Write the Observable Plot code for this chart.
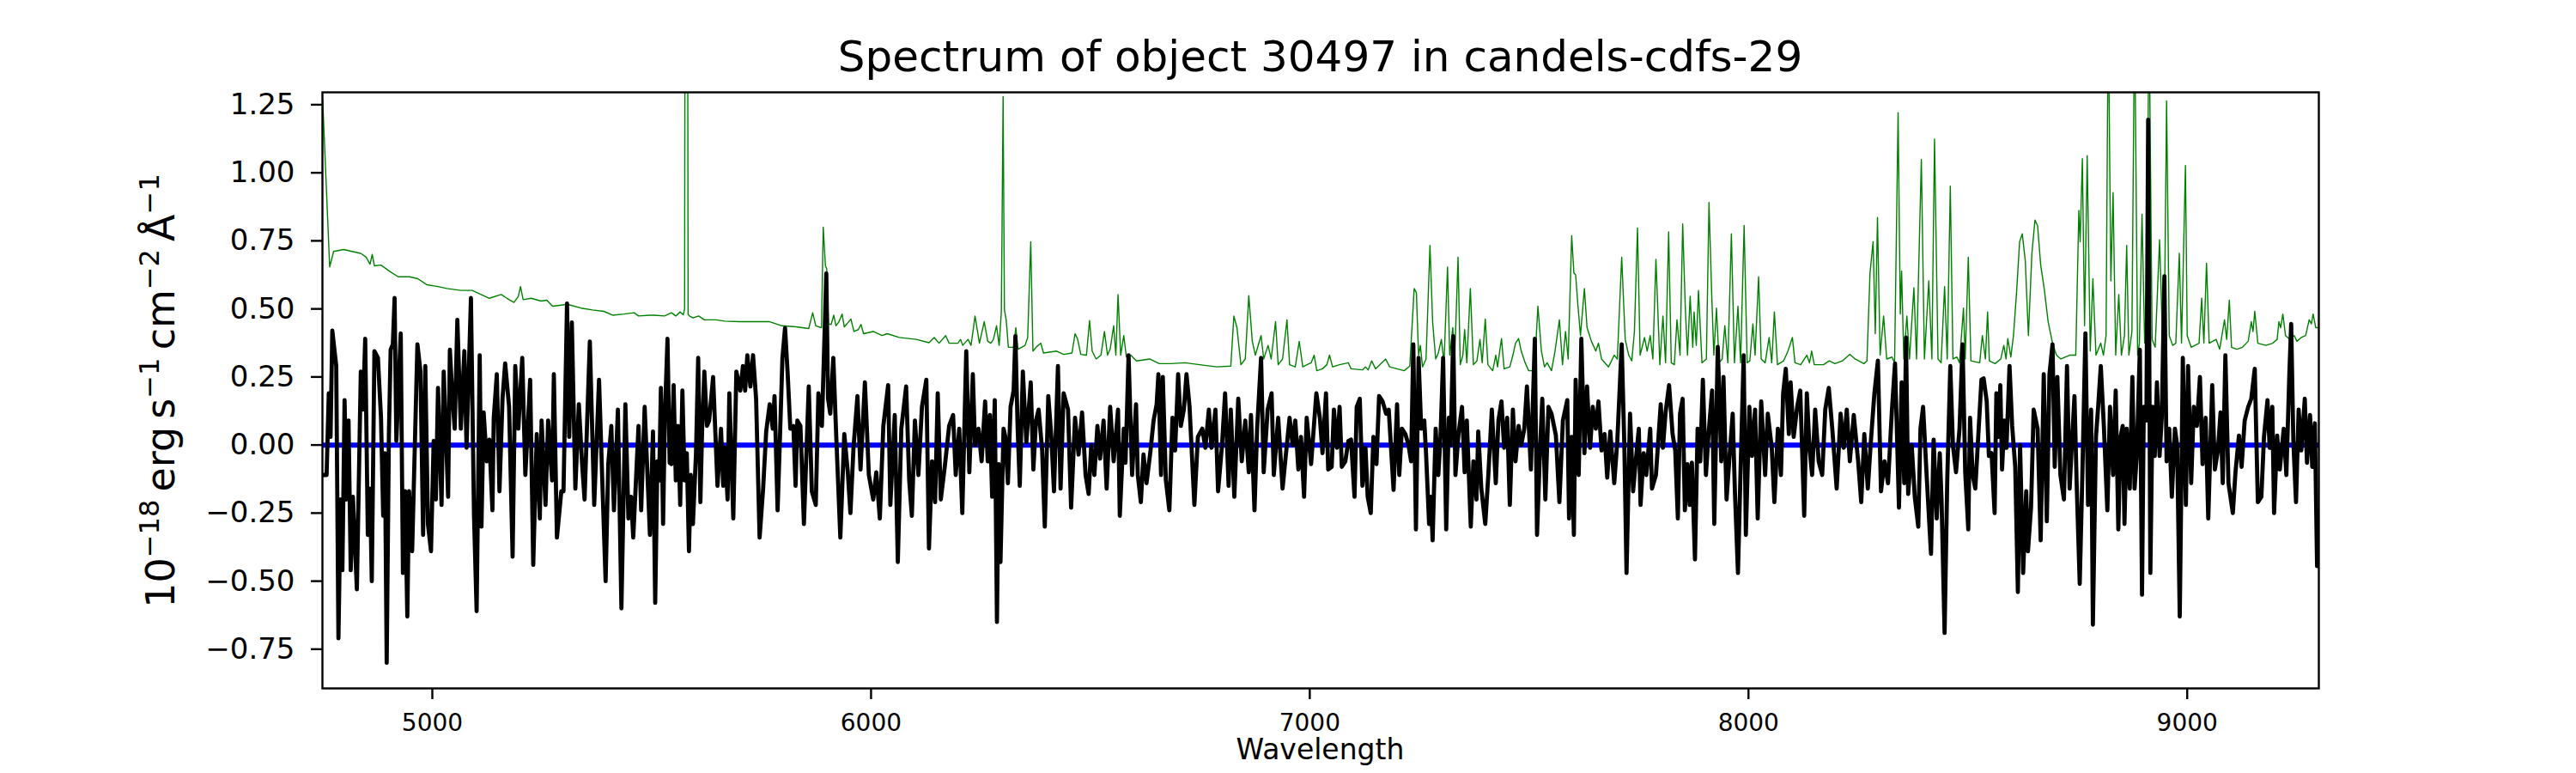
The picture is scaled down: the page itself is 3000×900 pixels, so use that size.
<!DOCTYPE html>
<html><head><meta charset="utf-8">
<script src="https://cdn.jsdelivr.net/npm/d3@7"></script>
<script src="https://cdn.jsdelivr.net/npm/@observablehq/plot@0.6"></script>
<style>
html,body{margin:0;padding:0;background:#fff}
svg{display:block;font-family:"DejaVu Sans",sans-serif}
</style>
</head><body><div id="chart"></div>
<script>
const title = "Spectrum of object 30497 in candels-cdfs-29";
const xLabel = "Wavelength";
const xTicks = [5000, 6000, 7000, 8000, 9000];
const yTicks = [-0.75, -0.5, -0.25, 0, 0.25, 0.5, 0.75, 1, 1.25];
const xDomain = [4749.5, 9300];
const yDomain = [-0.894, 1.2955];
const zeroLevel = [0];

// object flux (black), [wavelength, flux]
const flux = [
[4751,-0.11],[4759,-0.11],[4764,0.19],[4768,0.03],[4772,0.42],[4781,0.29],[4786,-0.71],[4791,-0.2],[4795,-0.46],[4800,0.165],[4804,-0.2],[4809,0.09],[4814,-0.46],[4819,-0.19],[4828,-0.53],[4837,0.27],[4842,0.13],[4847,0.39],[4853,-0.33],[4858,-0.16],[4862,-0.5],[4868,0.345],[4876,0.32],[4883,0.1],[4888,-0.26],[4892,-0.03],[4896,-0.8],[4901,0.04],[4905,0.35],[4910,0.37],[4914,0.54],[4918,0.015],[4928,0.41],[4933,-0.47],[4938,-0.17],[4943,-0.63],[4947,-0.17],[4954,-0.39],[4966,0.37],[4973,0.27],[4979,-0.33],[4984,0.29],[4990,-0.29],[4997,-0.39],[5003,0.015],[5008,-0.2],[5013,0.21],[5021,-0.22],[5026,0.27],[5036,-0.19],[5040,0.35],[5046,0.17],[5051,0.06],[5057,0.46],[5065,0.06],[5073,0.345],[5078,-0.01],[5088,0.54],[5095,-0.26],[5101,-0.61],[5108,0.33],[5112,-0.3],[5117,0.12],[5124,-0.06],[5130,0.02],[5137,-0.24],[5140,0.1],[5147,0.26],[5153,-0.17],[5160,0.17],[5166,0.3],[5175,0.14],[5183,-0.41],[5189,0.29],[5196,0.06],[5205,0.32],[5212,-0.11],[5223,0.24],[5230,-0.44],[5238,0.04],[5245,-0.27],[5249,0.09],[5258,-0.22],[5264,0.09],[5273,-0.13],[5277,0.26],[5284,-0.34],[5294,-0.17],[5299,-0.17],[5307,0.52],[5312,0.03],[5318,0.45],[5326,-0.16],[5334,0.15],[5341,-0.06],[5347,-0.2],[5359,0.38],[5369,-0.22],[5380,0.24],[5388,-0.16],[5395,-0.5],[5401,-0.07],[5408,0.07],[5414,-0.24],[5423,0.13],[5431,-0.6],[5440,0.15],[5447,-0.27],[5453,-0.19],[5458,-0.34],[5470,0.07],[5476,-0.24],[5484,0.14],[5496,-0.33],
[5503,0.05],[5508,-0.58],[5513,-0.06],[5517,-0.13],[5521,0.21],[5526,-0.29],[5530,0.1],[5536,0.39],[5541,-0.065],[5545,-0.07],[5550,0.22],[5555,-0.13],[5560,0.07],[5565,-0.22],[5570,0.2],[5575,-0.13],[5580,-0.03],[5585,-0.39],[5589,-0.11],[5594,-0.29],[5601,-0.03],[5606,0.32],[5611,-0.21],[5615,0.06],[5620,0.27],[5626,0.07],[5631,0.09],[5640,0.25],[5650,-0.15],[5658,0.06],[5663,-0.15],[5667,-0.01],[5673,-0.2],[5677,0.19],[5686,-0.27],[5693,0.27],[5702,0.2],[5708,0.29],[5713,0.2],[5718,0.33],[5725,0.215],[5731,0.33],[5738,0.17],[5746,-0.34],[5754,-0.16],[5761,0.05],[5769,0.15],[5776,0.06],[5780,0.18],[5787,-0.24],[5793,0.06],[5798,0.32],[5804,0.43],[5810,0.26],[5816,0.06],[5823,0.07],[5828,-0.15],[5832,0.09],[5839,0.07],[5847,-0.29],[5858,0.215],[5865,-0.17],[5874,-0.22],[5880,0.19],[5888,0.07],[5898,0.63],[5902,0.17],[5907,0.115],[5914,0.32],[5920,0.06],[5930,-0.34],[5939,0.04],[5947,-0.1],[5953,-0.25],[5960,-0.01],[5969,0.18],[5976,-0.09],[5986,0.23],[5995,-0.11],[6005,-0.2],[6012,-0.1],[6020,-0.27],[6028,0.07],[6039,0.22],[6044,-0.22],[6054,0.11],[6061,-0.43],[6069,0.06],[6080,0.215],[6087,-0.13],[6093,-0.26],[6100,0.09],[6108,-0.11],[6116,0.14],[6126,0.24],[6132,-0.38],[6139,-0.06],[6146,-0.21],[6152,0.19],[6159,-0.2],[6168,-0.08],[6178,0.07],[6187,0.11],[6193,-0.11],[6201,0.06],[6208,-0.25],[6217,0.345],[6224,-0.1],[6232,0.26],[6237,0],[6245,0.06],[6252,-0.06],[6260,0.16],
[6266,-0.06],[6271,0.11],[6276,-0.19],[6282,0.165],[6287,-0.65],[6291,-0.07],[6295,-0.43],[6302,0.06],[6306,0.03],[6312,-0.14],[6318,0.14],[6325,0.2],[6329,0.4],[6334,0.07],[6339,-0.15],[6346,0.27],[6354,0.01],[6364,0.23],[6370,-0.09],[6376,0.09],[6382,0.13],[6390,-0.02],[6396,-0.3],[6404,0.18],[6411,0.03],[6417,-0.17],[6426,0.29],[6432,-0.16],[6439,0.19],[6449,0.13],[6456,-0.23],[6465,0.1],[6473,-0.035],[6481,0.12],[6489,-0.11],[6496,-0.18],[6502,0],[6509,-0.11],[6516,0.07],[6522,-0.05],[6530,0.09],[6537,-0.16],[6545,0.14],[6553,-0.06],[6563,0.13],[6567,-0.26],[6576,0.06],[6580,-0.065],[6587,0.33],[6595,-0.11],[6604,0.15],[6608,-0.11],[6615,-0.21],[6621,-0.035],[6628,-0.14],[6637,-0.02],[6644,0.09],[6651,0.15],[6655,0.26],[6661,-0.11],[6665,0.25],[6672,-0.13],[6680,-0.24],[6687,0.1],[6693,-0.02],[6700,0.26],[6706,0.07],[6713,0.13],[6719,0.26],[6726,0.14],[6737,-0.22],[6745,0.03],[6755,0.06],[6762,-0.01],[6770,0.13],[6776,-0.01],[6785,0.13],[6791,-0.17],[6800,0],[6807,0.19],[6815,-0.15],[6820,0.13],[6828,-0.19],[6837,0.17],[6845,-0.06],[6853,0.09],[6861,-0.1],[6866,0.11],[6874,-0.24],[6880,0.06],[6889,0.32],[6895,-0.1],[6904,0.13],[6913,0.19],[6918,-0.11],[6928,0.1],[6938,-0.16],[6944,-0.06],[6954,0.1],[6961,0],[6967,0.09],[6974,-0.09],[6980,0.03],[6987,-0.19],[6993,0.1],[7003,-0.07],[7015,0.19],[7023,0.1],
[7029,-0.03],[7037,0.19],[7042,-0.09],[7050,-0.08],[7055,0.13],[7062,-0.01],[7068,0.14],[7073,-0.08],[7081,-0.06],[7088,0.015],[7094,0.02],[7102,-0.19],[7107,0.14],[7114,0.17],[7120,-0.15],[7127,-0.01],[7132,-0.19],[7139,-0.25],[7145,0.03],[7152,-0.07],[7158,0.18],[7166,0.16],[7174,0.115],[7180,0.13],[7191,-0.165],[7199,0.15],[7204,-0.11],[7210,0.06],[7218,0.04],[7225,0],[7231,-0.06],[7236,0.37],[7242,-0.31],[7248,0.32],[7254,0.06],[7261,0.09],[7265,-0.03],[7272,-0.29],[7276,-0.19],[7280,-0.35],[7287,0.06],[7293,-0.11],[7298,0.03],[7304,0.32],[7311,-0.31],[7317,0.1],[7321,0],[7327,0.4],[7332,-0.11],[7339,0.04],[7347,0.14],[7353,-0.1],[7358,0.09],[7367,-0.3],[7373,-0.06],[7380,-0.2],[7384,0.05],[7391,-0.16],[7400,-0.29],[7407,-0.11],[7415,0.13],[7424,-0.14],[7430,0.09],[7437,0.16],[7443,-0.01],[7450,0.1],[7456,-0.22],[7463,0.13],[7469,-0.06],[7476,0.07],[7482,0],[7489,0.06],[7495,0.215],[7504,-0.09],[7513,0.39],[7518,-0.33],[7525,-0.01],[7530,0.17],[7537,-0.2],[7544,0.14],[7551,0.115],[7561,0.035],[7569,-0.21],[7577,0.09],[7587,0.165],[7591,-0.27],[7597,0.03],[7602,-0.33],[7606,0.24],[7613,-0.11],[7619,0.39],[7626,-0.03],[7632,0.215],[7639,-0.01],[7645,0.14],[7652,0.06],[7658,0.16],[7665,-0.02],[7672,0.04],[7678,-0.12],[7685,0.05],[7694,-0.14],[7701,0.015],[7711,0.37],[7717,0],[7722,-0.47],[7730,0.115],[7737,-0.17],[7743,-0.06],[7750,0.06],[7754,-0.22],[7761,-0.03],[7767,-0.11],[7776,0.06],[7780,-0.16],[7789,-0.11],
[7800,0.15],[7805,-0.01],[7811,0.12],[7819,0.22],[7827,0.04],[7833,-0.02],[7839,-0.27],[7844,0.115],[7850,0.17],[7855,-0.24],[7861,-0.07],[7866,-0.22],[7871,-0.065],[7878,-0.42],[7884,0.06],[7890,-0.06],[7896,0.24],[7903,-0.11],[7909,0.04],[7917,0.2],[7922,-0.29],[7930,0.36],[7938,-0.06],[7943,0.25],[7950,-0.2],[7956,-0.06],[7964,0.115],[7969,-0.17],[7976,-0.47],[7982,-0.09],[7989,0.33],[7994,-0.33],[8002,0.14],[8008,-0.04],[8015,0.13],[8021,-0.27],[8029,0.16],[8038,-0.11],[8044,0.115],[8053,-0.01],[8059,-0.21],[8067,0.06],[8074,-0.11],[8079,0.19],[8085,0.28],[8092,0.04],[8096,0.23],[8103,0.03],[8111,0.14],[8118,0.2],[8127,-0.26],[8133,0.19],[8139,-0.01],[8145,-0.11],[8152,0.13],[8160,-0.06],[8168,-0.11],[8175,0.13],[8183,0.21],[8191,0.06],[8201,-0.16],[8210,0.115],[8217,-0.01],[8224,0.13],[8231,-0.06],[8240,0.11],[8250,-0.06],[8257,-0.21],[8264,0.04],[8272,-0.16],[8279,0.015],[8287,0.19],[8295,0.31],[8302,-0.17],[8310,-0.06],[8318,-0.14],[8327,0.13],[8334,0.3],[8343,-0.23],[8349,0.23],[8355,-0.14],[8359,0.395],[8364,-0.18],[8372,0],[8379,-0.19],[8387,-0.3],[8392,0.06],[8398,0.14],[8406,-0.11],[8416,-0.4],[8422,0.02],[8429,-0.27],[8436,-0.03],[8440,-0.2],[8447,-0.69],[8453,-0.13],[8460,0.29],[8466,0],[8473,-0.1],[8481,0.06],[8488,0.37],[8494,-0.1],[8501,-0.31],[8505,0.1],[8511,-0.11],[8517,-0.16],[8524,0.04],[8531,0.24],
[8536,0.245],[8543,0.16],[8548,-0.04],[8554,-0.03],[8561,-0.25],[8565,0.19],[8570,0.03],[8574,0.22],[8578,-0.09],[8583,0.09],[8588,-0.01],[8595,0.29],[8601,0.07],[8608,-0.08],[8614,-0.54],[8619,0],[8626,-0.47],[8633,-0.17],[8637,-0.39],[8644,-0.23],[8650,0.13],[8659,0.06],[8666,-0.35],[8673,0.26],[8680,-0.28],[8686,0.26],[8693,0.37],[8698,-0.08],[8704,0.25],[8711,-0.11],[8719,-0.2],[8726,0.29],[8732,-0.16],[8737,0],[8743,0.18],[8748,-0.14],[8755,-0.51],[8761,-0.11],[8768,0.41],[8774,-0.22],[8781,0.13],[8785,-0.66],[8792,0.03],[8797,0.14],[8803,0.29],[8810,0.07],[8818,-0.24],[8824,0.14],[8831,-0.11],[8837,0.2],[8843,-0.31],[8848,0.03],[8853,0.07],[8857,-0.29],[8862,0.06],[8869,-0.16],[8875,0.25],[8880,-0.16],[8885,-0.04],[8892,0.35],[8897,-0.55],[8901,0.14],[8907,0.09],[8911,1.195],[8916,-0.47],[8921,0.14],[8926,-0.04],[8931,0.23],[8937,-0.04],[8942,0.1],[8948,0.62],[8953,-0.06],[8959,0.06],[8965,-0.19],[8972,0.06],[8977,0],[8983,-0.63],[8990,0.32],[8997,-0.22],[9002,0.29],[9009,-0.14],[9015,0.14],[9022,0.07],[9029,0.25],[9035,-0.07],[9042,0.1],[9048,-0.27],[9057,0.22],[9063,-0.09],[9070,-0.02],[9076,0.12],[9081,-0.14],[9087,0.33],[9094,-0.14],[9104,-0.25],[9110,-0.1],[9118,0.035],[9124,-0.08],[9131,0.09],[9139,0.14],[9146,0.17],[9154,0.28],[9161,-0.21],[9169,-0.19],[9175,0.03],[9183,0.165],[9188,-0.01],[9194,0.14],[9198,-0.25],[9205,0.035],[9211,-0.09],[9220,0.06],[9226,-0.11],[9233,0.27],[9237,0.445],[9242,0.01],[9248,-0.21],[9254,0.13],[9260,-0.02],[9268,0.17],[9273,-0.065],[9280,0.11],[9285,-0.08],[9291,0.08],[9296,-0.445]
];

// noise spectrum (green), [wavelength, flux]
const noise = [
[4750,1.27],[4766,0.654],[4775,0.711],[4798,0.718],[4817,0.711],[4837,0.704],[4849,0.69],[4858,0.664],[4863,0.70],[4868,0.658],[4883,0.661],[4902,0.639],[4922,0.618],[4948,0.618],[4967,0.611],[4987,0.589],[5013,0.582],[5033,0.575],[5065,0.568],[5091,0.568],[5111,0.553],[5130,0.539],[5157,0.553],[5170,0.539],[5186,0.524],[5196,0.546],[5201,0.582],[5207,0.534],[5225,0.539],[5248,0.529],[5261,0.532],[5274,0.510],[5294,0.514],[5307,0.517],[5339,0.503],[5365,0.496],[5391,0.491],[5411,0.477],[5437,0.481],[5460,0.486],[5470,0.474],[5496,0.477],
[5503,0.477],[5529,0.474],[5545,0.486],[5555,0.474],[5565,0.489],[5572,0.478],[5575,0.5],[5577,3],[5581,3],[5583,0.48],[5586,0.474],[5594,0.467],[5607,0.474],[5620,0.46],[5646,0.46],[5666,0.455],[5699,0.453],[5731,0.453],[5769,0.453],[5797,0.438],[5829,0.434],[5858,0.428],[5867,0.486],[5874,0.438],[5887,0.431],[5891,0.80],[5896,0.658],[5899,0.647],[5903,0.445],[5909,0.443],[5915,0.477],[5920,0.438],[5927,0.453],[5934,0.481],[5939,0.434],[5945,0.445],[5954,0.463],[5961,0.417],[5971,0.424],[5977,0.443],[5983,0.409],[6005,0.417],[6025,0.402],[6037,0.409],[6064,0.395],[6103,0.388],[6132,0.376],[6144,0.395],[6155,0.374],[6170,0.402],[6178,0.374],[6198,0.374],[6204,0.388],[6209,0.366],[6221,0.388],[6228,0.366],[6237,0.474],[6247,0.374],[6258,0.453],[6266,0.381],
[6273,0.374],[6279,0.388],[6286,0.438],[6292,0.366],[6297,0.489],[6301,1.28],[6304,0.496],[6308,0.46],[6313,0.359],[6325,0.359],[6330,0.431],[6335,0.352],[6351,0.366],[6357,0.395],[6364,0.747],[6369,0.345],[6378,0.362],[6387,0.374],[6393,0.338],[6423,0.345],[6439,0.333],[6458,0.338],[6465,0.409],[6471,0.388],[6478,0.333],[6491,0.33],[6498,0.457],[6504,0.345],[6513,0.316],[6524,0.33],[6532,0.417],[6539,0.33],[6545,0.352],[6553,0.438],[6558,0.33],[6563,0.553],[6569,0.33],[6576,0.402],[6582,0.323],[6592,0.33],[6605,0.309],[6635,0.316],[6657,0.299],[6683,0.299],[6716,0.302],[6749,0.295],[6788,0.287],[6820,0.29],[6827,0.474],[6834,0.431],[6843,0.295],[6853,0.316],[6861,0.549],[6869,0.381],[6876,0.33],[6889,0.402],[6895,0.316],[6905,0.366],[6912,0.316],[6922,0.453],[6928,0.295],[6938,0.316],[6948,0.46],[6954,0.295],[6967,0.287],[6976,0.381],[6984,0.287],[7003,0.302],[7010,0.33],[7016,0.273],[7029,0.28],
[7039,0.295],[7045,0.33],[7052,0.287],[7068,0.295],[7088,0.302],[7094,0.28],[7120,0.276],[7127,0.287],[7133,0.276],[7141,0.309],[7150,0.28],[7173,0.316],[7182,0.287],[7215,0.273],[7228,0.29],[7238,0.575],[7243,0.56],[7248,0.33],[7252,0.366],[7257,0.287],[7265,0.316],[7274,0.733],[7280,0.453],[7287,0.316],[7293,0.338],[7300,0.388],[7306,0.302],[7314,0.654],[7319,0.33],[7326,0.431],[7330,0.302],[7338,0.69],[7343,0.295],[7349,0.33],[7353,0.424],[7358,0.302],[7366,0.575],[7373,0.295],[7381,0.309],[7388,0.388],[7393,0.302],[7400,0.463],[7406,0.295],[7417,0.273],[7424,0.33],[7428,0.287],[7437,0.391],[7443,0.28],[7456,0.287],[7463,0.33],[7469,0.374],[7476,0.391],[7482,0.345],[7491,0.302],[7499,0.273],[7512,0.273],[7520,0.51],[7528,0.345],[7535,0.287],[7541,0.302],[7551,0.273],[7559,0.345],[7569,0.46],[7576,0.295],[7583,0.417],[7589,0.316],[7597,0.769],[7602,0.632],[7606,0.625],[7611,0.517],[7617,0.402],[7626,0.575],[7632,0.431],[7642,0.381],[7652,0.345],[7658,0.374],[7665,0.316],[7681,0.287],[7694,0.33],[7701,0.316],[7711,0.69],[7719,0.388],[7727,0.33],[7734,0.309],[7740,0.417],[7747,0.797],[7753,0.33],[7763,0.395],[7769,0.345],[7776,0.402],[7782,0.316],[7789,0.682],
[7798,0.295],[7805,0.474],[7811,0.302],[7818,0.783],[7824,0.302],[7831,0.295],[7837,0.46],[7844,0.33],[7850,0.812],[7856,0.503],[7861,0.33],[7867,0.546],[7873,0.359],[7876,0.489],[7881,0.366],[7886,0.568],[7894,0.302],[7904,0.316],[7910,0.891],[7916,0.56],[7921,0.33],[7927,0.503],[7933,0.302],[7940,0.316],[7946,0.438],[7953,0.302],[7961,0.776],[7968,0.302],[7976,0.51],[7982,0.302],[7990,0.807],[7997,0.302],[8003,0.309],[8010,0.445],[8015,0.33],[8023,0.618],[8029,0.316],[8038,0.302],[8047,0.395],[8053,0.302],[8059,0.489],[8066,0.295],[8080,0.309],[8090,0.345],[8100,0.395],[8106,0.302],[8119,0.295],[8133,0.33],[8139,0.302],[8144,0.345],[8150,0.295],[8171,0.295],[8184,0.309],[8197,0.299],[8214,0.309],[8231,0.333],[8243,0.316],[8263,0.299],[8270,0.309],[8277,0.632],[8284,0.747],[8289,0.409],[8294,0.836],[8300,0.33],[8308,0.474],[8315,0.316],[8327,0.323],[8333,0.302],[8341,1.221],[8346,0.481],[8349,0.639],[8354,0.316],[8361,0.474],[8367,0.316],[8377,0.578],[8383,0.316],[8394,1.049],[8401,0.316],[8411,0.603],[8418,0.316],[8424,1.124],[8432,0.316],[8439,0.302],[8447,0.582],[8453,0.316],[8460,0.951],[8466,0.316],[8475,0.323],[8481,0.302],[8490,0.503],[8494,0.316],[8501,0.69],[8507,0.309],[8527,0.302],[8533,0.402],[8540,0.316],[8545,0.489],
[8549,0.309],[8562,0.299],[8575,0.316],[8582,0.366],[8587,0.316],[8591,0.391],[8598,0.323],[8604,0.402],[8611,0.56],[8618,0.747],[8624,0.776],[8631,0.675],[8638,0.402],[8646,0.704],[8653,0.826],[8659,0.805],[8666,0.661],[8674,0.575],[8683,0.453],[8693,0.374],[8702,0.33],[8712,0.316],[8732,0.33],[8746,0.33],[8753,0.862],[8756,0.747],[8761,1.052],[8766,0.438],[8772,1.063],[8779,0.345],[8785,0.611],[8792,0.33],[8803,0.374],[8809,0.33],[8815,0.402],[8820,1.6],[8826,0.603],[8831,0.927],[8837,0.33],[8844,0.553],[8850,0.33],[8857,0.402],[8862,0.733],[8867,0.33],[8874,0.417],[8880,1.6],[8887,0.33],[8891,0.374],[8897,0.848],[8903,0.374],[8908,0.575],[8913,1.6],[8920,0.388],[8927,0.359],[8937,0.754],[8944,0.374],[8948,0.445],[8953,1.264],[8959,0.402],[8967,0.366],[8974,0.374],[8982,0.704],[8987,0.374],[8996,1.027],[9000,0.402],[9009,0.359],[9027,0.374],[9033,0.539],[9038,0.374],[9044,0.668],[9050,0.374],[9066,0.388],[9074,0.352],[9085,0.46],[9090,0.388],[9096,0.532],[9101,0.359],[9113,0.352],[9126,0.359],[9139,0.381],[9146,0.453],[9150,0.417],[9154,0.491],[9161,0.374],[9179,0.366],[9195,0.374],[9205,0.388],[9209,0.453],[9213,0.431],[9218,0.481],[9224,0.402],[9234,0.388],[9244,0.402],[9250,0.381],[9260,0.395],[9270,0.402],[9278,0.46],[9283,0.445],[9287,0.481],[9293,0.431],[9298,0.431]
];

const fmtY = d => (d < 0 ? "\u2212" : "") + Math.abs(d).toFixed(2);

const plot = Plot.plot({
  width: 3000,
  height: 900,
  marginLeft: 375,
  marginRight: 300,
  marginTop: 107,
  marginBottom: 99,
  style: {fontFamily: "DejaVu Sans", background: "white", color: "black"},
  x: {domain: xDomain},
  y: {domain: yDomain},
  marks: [
    Plot.ruleY(zeroLevel, {stroke: "#0000ff", strokeWidth: 6}),
    Plot.line(noise, {x: d => d[0], y: d => d[1], stroke: "#008000", strokeWidth: 1.4, clip: true}),
    Plot.line(flux, {x: d => d[0], y: d => d[1], stroke: "black", strokeWidth: 4.8, clip: true, strokeLinejoin: "round"}),
    Plot.frame({stroke: "black", strokeWidth: 2.4}),
    Plot.axisX(xTicks, {tickSize: 13, tickPadding: 17, fontSize: 28, strokeWidth: 2.4, label: null, tickFormat: d => String(d)}),
    Plot.axisY(yTicks, {tickSize: 13, tickPadding: 19, fontSize: 34, strokeWidth: 2.4, label: null, tickFormat: fmtY})
  ]
});

document.getElementById("chart").appendChild(plot);

const svg = d3.select(plot);
svg.append("text")
  .attr("x", 1537.5).attr("y", 83)
  .attr("text-anchor", "middle")
  .attr("font-size", 50)
  .attr("fill", "black")
  .text(title);

svg.append("text")
  .attr("x", 1537.5).attr("y", 884)
  .attr("text-anchor", "middle")
  .attr("font-size", 33)
  .attr("fill", "black")
  .text(xLabel);

// y label: 10^{-18} erg s^{-1} cm^{-2} Å^{-1}
const yLabelParts = [
  ["10", false], ["\u221218", true],
  ["\u2009erg\u2009s", false], ["\u22121", true],
  ["\u2009cm", false], ["\u22122", true],
  ["\u2009\u00C5", false], ["\u22121", true]
];
const yl = svg.append("text")
  .attr("transform", "translate(203,455) rotate(-90)")
  .attr("text-anchor", "middle")
  .attr("font-size", 46)
  .attr("fill", "black")
  .attr("xml:space", "preserve");
let raised = false;
for (const [txt, sup] of yLabelParts) {
  const t = yl.append("tspan").text(txt);
  if (sup && !raised) { t.attr("dy", -18); raised = true; }
  else if (!sup && raised) { t.attr("dy", 18); raised = false; }
  if (sup) t.attr("font-size", 32);
}
</script>
</body></html>
